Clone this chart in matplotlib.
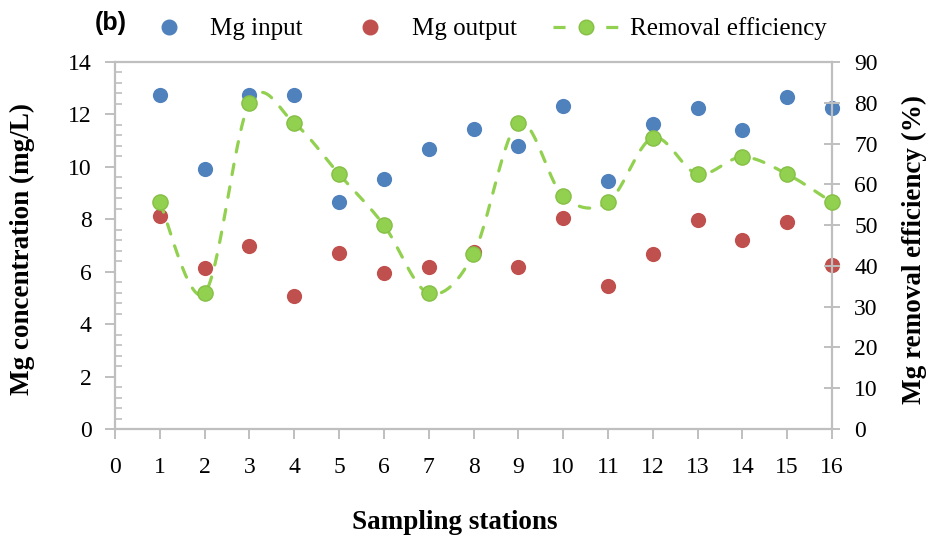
import numpy as np
import matplotlib
matplotlib.use("Agg")
import matplotlib.pyplot as plt
from matplotlib.lines import Line2D

stations = list(range(1, 17))
mg_input = [12.75, 9.92, 12.75, 12.75, 8.66, 9.54, 10.69, 11.45, 10.80, 12.33, 9.47, 11.64, 12.25, 11.41, 12.67, 12.25]
mg_output = [8.13, 6.15, 6.98, 5.08, 6.72, 5.95, 6.18, 6.76, 6.18, 8.05, 5.46, 6.68, 7.98, 7.21, 7.90, 6.26]
removal_eff = [55.6, 33.3, 80.0, 75.0, 62.5, 50.0, 33.3, 42.9, 75.0, 57.1, 55.6, 71.4, 62.5, 66.7, 62.5, 55.6]
x_ticks = list(range(0, 17))
left_ticks = list(range(0, 15, 2))
right_ticks = list(range(0, 91, 10))

BLUE = "#4F81BD"
RED = "#C0504D"
GREEN = "#92D050"
GREEN_EDGE = "#86BF45"
SPINE = "#BFBFBF"
SERIF = ["Liberation Serif", "DejaVu Serif"]

plt.rcParams["font.family"] = SERIF

W, H = 930, 540


def smooth(xs, ys, n=30):
    P = np.column_stack([np.asarray(xs, float), np.asarray(ys, float)])
    m = len(P)
    out = []
    for i in range(m - 1):
        p0 = P[i - 1] if i > 0 else P[i]
        p1 = P[i]
        p2 = P[i + 1]
        p3 = P[i + 2] if i + 2 < m else P[i + 1]
        c1 = p1 + (p2 - p0) / 6.0
        c2 = p2 - (p3 - p1) / 6.0
        t = np.linspace(0, 1, n, endpoint=(i == m - 2))[:, None]
        seg = ((1 - t) ** 3) * p1 + 3 * ((1 - t) ** 2) * t * c1 + 3 * (1 - t) * t ** 2 * c2 + t ** 3 * p2
        out.append(seg)
    out = np.vstack(out)
    return out[:, 0], out[:, 1]


fig = plt.figure(figsize=(W / 100, H / 100), dpi=100)
AX_L, AX_R, AX_T, AX_B = 115, 832, 62, 429
ax = fig.add_axes([AX_L / W, 1 - AX_B / H, (AX_R - AX_L) / W, (AX_B - AX_T) / H])
ax2 = ax.twinx()

ax.scatter(stations, mg_input, s=120, color=BLUE, zorder=3, linewidths=0, clip_on=False)
ax.scatter(stations, mg_output, s=120, color=RED, zorder=3, linewidths=0, clip_on=False)

sx, sy = smooth(stations, removal_eff)
ax2.plot(sx, sy, color=GREEN, lw=2.3, dashes=(3.3, 3.9), dash_capstyle="round",
         zorder=2, clip_on=False)
ax2.scatter(stations, removal_eff, s=120, color=GREEN, edgecolors=GREEN_EDGE, linewidths=1,
            zorder=3, clip_on=False)

ax.set_xlim(0, 16)
ax.set_ylim(0, 14)
ax2.set_ylim(0, 90)
ax.set_xticks(x_ticks)
ax.set_yticks(left_ticks)
ax.set_yticks(np.arange(0, 14.01, 0.4), minor=True)
ax2.set_yticks(right_ticks)

for a in (ax, ax2):
    for sp in a.spines.values():
        sp.set_color(SPINE)
        sp.set_linewidth(1.6)
ax.spines["right"].set_visible(False)
ax2.spines["left"].set_visible(False)
ax2.spines["bottom"].set_visible(False)
ax2.spines["top"].set_visible(False)

ax.tick_params(axis="x", which="major", direction="out", length=7, width=1.4, color=SPINE,
               labelsize=17, pad=13)
ax.tick_params(axis="y", which="major", direction="out", length=7, width=1.4, color=SPINE,
               labelsize=17, pad=10)
ax.tick_params(axis="y", which="minor", direction="in", length=5, width=1.2, color=SPINE)
ax.tick_params(axis="x", which="minor", bottom=False)
ax2.tick_params(axis="y", which="major", direction="inout", length=12, width=1.4, color=SPINE,
                labelsize=17, pad=10)

ax.set_xlabel("Sampling stations", fontsize=19.5, fontweight="bold")
ax.set_ylabel("Mg concentration (mg/L)", fontsize=19.5, fontweight="bold")
ax2.set_ylabel("Mg removal efficiency (%)", fontsize=19.5, fontweight="bold")
ax.xaxis.set_label_coords((455 - AX_L) / (AX_R - AX_L), (AX_B - 510) / (AX_B - AX_T))
ax.yaxis.set_label_coords((35 - AX_L) / (AX_R - AX_L), 0.49)
ax2.yaxis.set_label_coords((902 - AX_L) / (AX_R - AX_L), 0.49)

# legend: three entries placed along the top
LEG_FS = 18
LEG_Y = 1 - 29 / H
entries = [
    (Line2D([], [], ls="none", marker="o", markersize=10.5, color=BLUE), "Mg input", 156.5, 1.0, 1.14),
    (Line2D([], [], ls="none", marker="o", markersize=10.5, color=RED), "Mg output", 357.5, 1.0, 1.18),
    (Line2D([], [], color=GREEN, lw=2.3, dashes=(3.76, 4.5), marker="o", markersize=10.5,
            markerfacecolor=GREEN, markeredgecolor=GREEN_EDGE), "Removal efficiency", 553, 2.6, 0.48),
]
for h, lab, x0, hl, tp in entries:
    fig.legend([h], [lab], loc="center left", bbox_to_anchor=(x0 / W, LEG_Y), frameon=False,
               fontsize=LEG_FS, handlelength=hl, handletextpad=tp, borderaxespad=0, borderpad=0)

fig.text(95 / W, 1 - 23 / H, "(b)", fontsize=18, fontweight="bold",
         family=["Liberation Sans", "DejaVu Sans"], va="center", ha="left")

fig.savefig("out.png", dpi=100)
